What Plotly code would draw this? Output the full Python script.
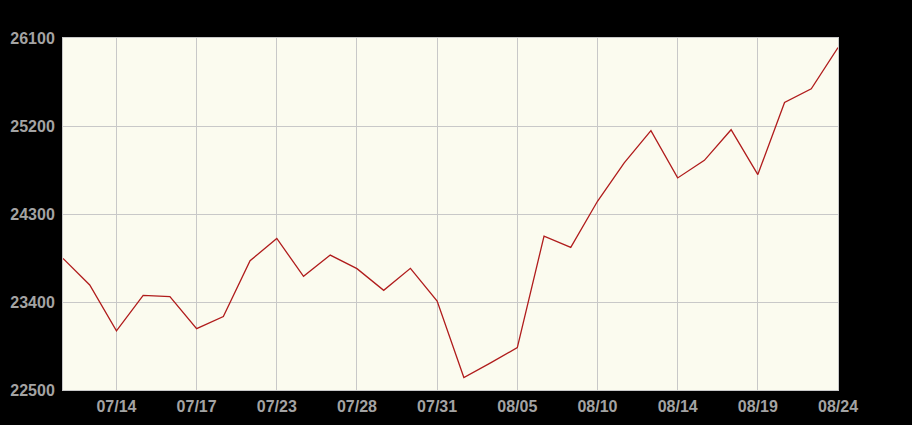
import plotly.graph_objects as go

dates = ["07/10", "07/11", "07/14", "07/15", "07/16", "07/17", "07/18", "07/21",
         "07/23", "07/24", "07/25", "07/28", "07/29", "07/30", "07/31", "08/01",
         "08/04", "08/05", "08/06", "08/07", "08/10", "08/11", "08/12", "08/14",
         "08/15", "08/18", "08/19", "08/20", "08/21", "08/24"]
values = [23846, 23574, 23104, 23468, 23455, 23128, 23251, 23822,
          24050, 23662, 23880, 23741, 23519, 23744, 23410, 22628,
          22778, 22934, 24074, 23958, 24430, 24822, 25152, 24669,
          24849, 25162, 24703, 25441, 25581, 26002]
tick_labels = dates[2::3]
y_ticks = [22500, 23400, 24300, 25200, 26100]

fig = go.Figure(go.Scatter(
    x=dates, y=values, mode="lines",
    line=dict(color="#B01C1C", width=1.3),
    hoverinfo="x+y",
))

font = dict(family="Liberation Sans, Arial, sans-serif", size=16, color="#A3A3A3")

fig.update_layout(
    width=912, height=425,
    paper_bgcolor="#000000", plot_bgcolor="#FBFBEF",
    margin=dict(l=63, r=74, t=38, b=35),
    showlegend=False,
    font=font,
)
fig.update_xaxes(
    type="category", range=[0, len(dates) - 1],
    tickmode="array", tickvals=tick_labels, ticktext=[f"<b>{t}</b>" for t in tick_labels],
    showgrid=True, gridcolor="#C8C8C8", gridwidth=1,
    showline=True, linecolor="#C8C8C8", linewidth=1, mirror=True,
    ticks="", ticklabelstandoff=2, zeroline=False, automargin=False,
)
fig.update_yaxes(
    range=[22500, 26100], tickmode="array", tickvals=y_ticks,
    ticktext=[f"<b>{v}</b>" for v in y_ticks],
    showgrid=True, gridcolor="#C8C8C8", gridwidth=1,
    showline=True, linecolor="#C8C8C8", linewidth=1, mirror=True,
    ticks="", ticklabelstandoff=4, zeroline=False, automargin=False,
)

fig.write_html(
    "out.html",
    config={"displayModeBar": False},
    post_script="document.body.style.margin='0';document.body.style.background='#000';",
)
